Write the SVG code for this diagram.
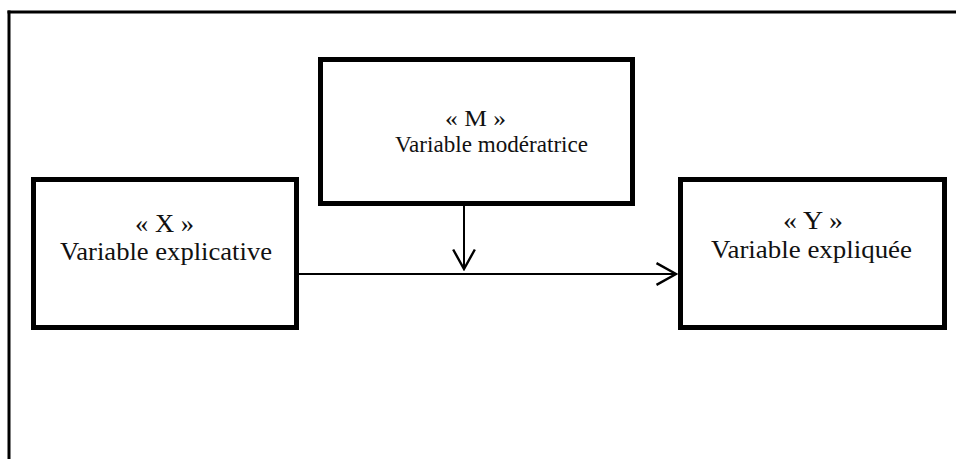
<svg xmlns="http://www.w3.org/2000/svg" width="956" height="459" viewBox="0 0 956 459">
  <style>
    .frame { stroke: #000; stroke-width: 3; fill: none; }
    .box { fill: #fff; stroke: #000; stroke-width: 5; }
    .lbl { font-family: "Liberation Serif", "Times New Roman", serif; fill: #111; }
    .m { font-size: 24px; }
    .xy { font-size: 26px; }
    .conn { stroke: #000; stroke-width: 2; fill: none; }
  </style>
  <defs>
    <marker id="open" markerUnits="userSpaceOnUse" markerWidth="24" markerHeight="26" viewBox="-20 -12 22 24" refX="0" refY="0" orient="auto">
      <path d="M -18 -10 L 0 0 L -18 10" fill="none" stroke="#000" stroke-width="2.2"/>
    </marker>
  </defs>
  <rect width="956" height="459" fill="#fff"/>
  <g id="frame">
    <line class="frame" x1="7.5" y1="12" x2="956" y2="12"/>
    <line class="frame" x1="9" y1="10.5" x2="9" y2="459"/>
  </g>
  <g id="connectors">
    <line class="conn" x1="299" y1="274" x2="676" y2="274" marker-end="url(#open)"/>
    <line class="conn" x1="464" y1="206" x2="464" y2="269" marker-end="url(#open)"/>
  </g>
  <g id="node-m">
    <rect class="box" x="320.5" y="59.5" width="312" height="144"/>
    <text class="lbl m" x="445" y="126" textLength="61" lengthAdjust="spacingAndGlyphs">« M »</text>
    <text class="lbl m" x="395" y="152" textLength="193" lengthAdjust="spacingAndGlyphs">Variable modératrice</text>
  </g>
  <g id="node-x">
    <rect class="box" x="33.5" y="179.5" width="263" height="148"/>
    <text class="lbl xy" x="135" y="232" textLength="59" lengthAdjust="spacingAndGlyphs">« X »</text>
    <text class="lbl xy" x="60" y="260" textLength="212" lengthAdjust="spacingAndGlyphs">Variable explicative</text>
  </g>
  <g id="node-y">
    <rect class="box" x="680.5" y="179.5" width="264" height="148"/>
    <text class="lbl xy" x="783" y="229" textLength="60" lengthAdjust="spacingAndGlyphs">« Y »</text>
    <text class="lbl xy" x="711" y="258" textLength="201" lengthAdjust="spacingAndGlyphs">Variable expliquée</text>
  </g>
</svg>
